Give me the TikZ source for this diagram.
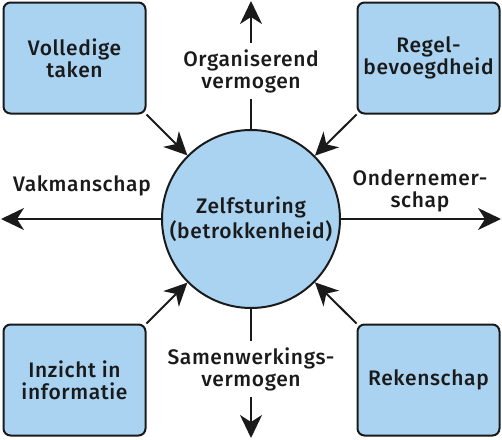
\documentclass[tikz,border=0pt]{standalone}
\usepackage{fontspec}
\setmainfont{Fira Sans}[BoldFont={Fira Sans Medium},BoldFeatures={LetterSpace=3}]
\usetikzlibrary{arrows.meta}
\definecolor{boxfill}{RGB}{170,211,242}
\definecolor{ink}{RGB}{26,26,26}

\begin{document}
\begin{tikzpicture}[x=1pt,y=-1pt,
  >={Stealth[length=23pt,width=22pt,inset=7pt]},
  lbl/.style={font=\bfseries\fontsize{21}{22}\selectfont,align=center,text=ink,inner sep=0pt},
  factor/.style={lbl,draw=ink,fill=boxfill,line width=2pt,rounded corners=7pt,
                 minimum width=142pt,minimum height=111pt},
  hub/.style={lbl,circle,draw=ink,fill=boxfill,line width=2pt,minimum size=178pt,
              font=\bfseries\fontsize{21}{25}\selectfont},
  axis/.style={lbl,inner ysep=6pt},
  link/.style={ink,line width=2pt,->},
  stem/.style={ink,line width=2pt}
]
\useasboundingbox (0,0) rectangle (502,439);
% centre and the four factors
\node[hub]    (zelf) at (251,219)   {Zelfsturing\\(betrokkenheid)};
\node[factor] (vt)   at (74.5,58)   {Volledige\\taken};
\node[factor] (rb)   at (428.5,58)  {Regel-\\bevoegdheid};
\node[factor] (ii)   at (74.5,380)  {Inzicht in\\informatie};
\node[factor] (rk)   at (428.5,380) {Rekenschap};

% capacities along the axes
\node[axis] (org)  at (251,71)  {Organiserend\\vermogen};
\node[axis] (sam)  at (251,369) {Samenwerkings-\\vermogen};
\node[lbl]  (vak)  at (82,186)  {Vakmanschap};
\node[lbl]  (ond)  at (420,191) {Ondernemer-\\schap};
\coordinate (ntip) at (251,1);
\coordinate (stip) at (251,438);
\coordinate (wtip) at (1,219);
\coordinate (etip) at (501,219);

% factors feed the centre
\draw[link] (vt.south east) -- (zelf);
\draw[link] (rb.south west) -- (zelf);
\draw[link] (ii.north east) -- (zelf);
\draw[link] (rk.north west) -- (zelf);

% axes out of the centre
\draw[stem] (zelf.north) -- (org.south);
\draw[link] (org.north) -- (ntip);
\draw[stem] (zelf.south) -- (sam.north);
\draw[link] (sam.south) -- (stip);
\draw[link] (zelf.west) -- (wtip);
\draw[link] (zelf.east) -- (etip);
\end{tikzpicture}
\end{document}
